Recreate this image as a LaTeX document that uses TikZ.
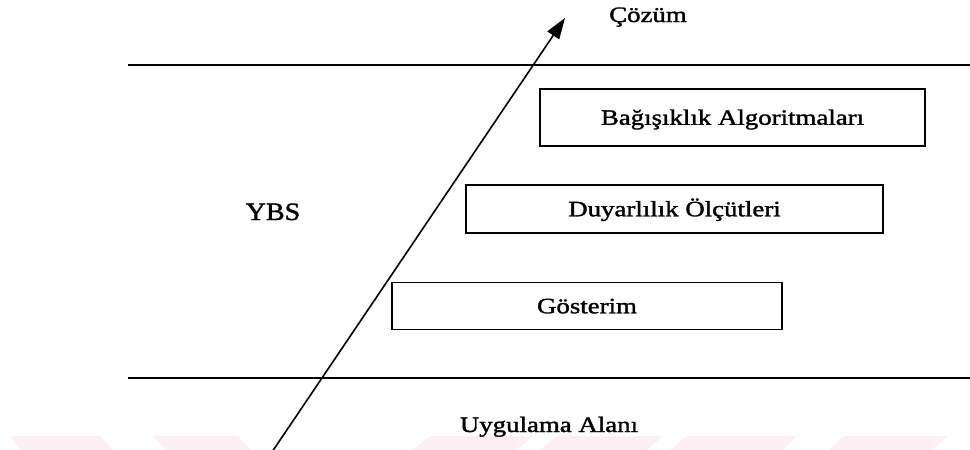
\documentclass[tikz,border=0pt]{standalone}
\usepackage{fontspec}
\usepackage{graphicx}
\setmainfont{Liberation Serif}
\newfontfamily\scanfont{Liberation Serif}[FakeBold=1.4]
\usetikzlibrary{arrows.meta}
\definecolor{wmpink}{HTML}{FEF0F2}
\newcommand\wtxt[1]{\scalebox{1.22}[1]{#1}}
\tikzset{
  txt/.style={inner sep=0pt, font=\scanfont\fontsize{22}{26}\selectfont},
  layerbox/.style={draw=black, line width=1.3pt, inner sep=0pt,
    text height=14.6pt, text depth=0pt,
    font=\scanfont\fontsize{22}{26}\selectfont},
  rule/.style={line width=1.9pt},
  wm/.style={fill=wmpink}
}
\begin{document}
\begin{tikzpicture}[x=1pt,y=-1pt]
\useasboundingbox (0,0) rectangle (970,450);
% watermark stripes
\fill[wm] (10,436) -- (100,436) -- (113,450) -- (20,450) -- cycle;
\fill[wm] (153,436) -- (238,436) -- (250,450) -- (167,450) -- cycle;
\fill[wm] (430,436) -- (533,436) -- (517,450) -- (413,450) -- cycle;
\fill[wm] (557,436) -- (663,436) -- (647,450) -- (540,450) -- cycle;
\fill[wm] (687,436) -- (797,436) -- (783,450) -- (670,450) -- cycle;
\fill[wm] (843,436) -- (947,436) -- (933,450) -- (830,450) -- cycle;
% horizontal rules
\coordinate (tl) at (128,65);
\coordinate (tr) at (970,65);
\coordinate (bl) at (128,378);
\coordinate (br) at (970,378);
\draw[rule] (tl) -- (tr);
\draw[rule] (bl) -- (br);
% boxes
\node[layerbox, minimum width=385pt, minimum height=57pt] (imm) at (732.5,117.5) {\wtxt{Bağışıklık Algoritmaları}};
\node[layerbox, minimum width=417pt, minimum height=48pt] (aff) at (674.5,209) {\wtxt{Duyarlılık Ölçütleri}};
\node[layerbox, minimum width=390pt, minimum height=47pt] (rep) at (587,306) {\wtxt{Gösterim}};
% texts
\node[txt, anchor=base] (sol) at (648,22) {\wtxt{Çözüm}};
\node[inner sep=0pt, anchor=base, font=\scanfont\fontsize{25}{30}\selectfont] (ybs) at (273,220) {\scalebox{1.12}[1]{YBS}};
\node[txt, anchor=base] (app) at (549,432) {\wtxt{Uygulama Alanı}};
% arrow
\coordinate (astart) at (272,452);
\coordinate (aend) at (565,18);
\draw[line width=1.6pt, -{Triangle[length=21pt,width=14pt]}] (astart) -- (aend);
\end{tikzpicture}
\end{document}
